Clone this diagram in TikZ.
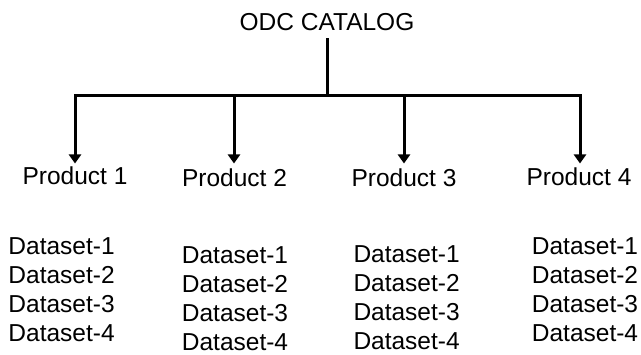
\documentclass[tikz,border=0pt]{standalone}
\usepackage{fontspec}
\setmainfont{Liberation Sans}
\usetikzlibrary{arrows.meta}
\begin{document}
\begin{tikzpicture}[x=1pt,y=-1pt,
  label text/.style={inner sep=0pt, anchor=base, font=\fontsize{24.5}{28}\selectfont},
  data text/.style={inner sep=0pt, anchor=base west, font=\fontsize{24.5}{28}\selectfont},
  tree line/.style={line width=3pt, line cap=rect},
  drop arrow/.style={line width=3pt, -{Triangle[width=12pt,length=9pt]}}]
  \useasboundingbox[fill=white] (0,0) rectangle (641,355);

  % root
  \node[label text, outer sep=8pt] (catalog) at (327,31) {ODC CATALOG};

  % bus line and its branch points
  \coordinate (hub) at (327,96);
  \coordinate (b1) at (75,96);
  \coordinate (b2) at (234,96);
  \coordinate (b3) at (404,96);
  \coordinate (b4) at (580,96);
  \coordinate (tips) at (0,163.5);

  \draw[tree line] (catalog.south) -- (hub);
  \draw[tree line] (b1) -- (b4);

  % products
  \node[label text] (p1) at (75,184.5) {Product 1};
  \node[label text] (p2) at (234.5,187) {Product 2};
  \node[label text] (p3) at (404,186.5) {Product 3};
  \node[label text] (p4) at (579,185.5) {Product 4};

  \foreach \k in {1,...,4}
    \draw[drop arrow] (b\k) -- (b\k |- tips);

  % datasets of each product
  \foreach \c/\x/\y in {1/8.3/255, 2/181.7/263.5, 3/353.3/262.5, 4/531.7/255}
    \foreach \i in {1,...,4}
      \node[data text] (d\c\i) at (\x,{\y+29*(\i-1)}) {Dataset-\i};
\end{tikzpicture}
\end{document}
